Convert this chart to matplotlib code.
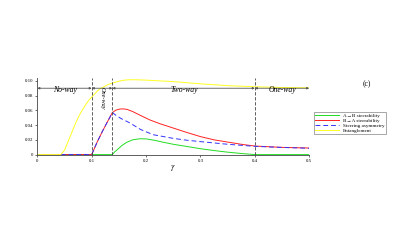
import matplotlib
matplotlib.use("Agg")
import matplotlib.pyplot as plt

plt.rcParams["font.family"] = ["Liberation Serif", "DejaVu Serif"]
plt.rcParams["mathtext.fontset"] = "stix"

# entanglement (yellow)
x_ent = [0, 0.043, 0.05, 0.055, 0.06, 0.065, 0.07, 0.075, 0.08, 0.085, 0.09, 0.095,
         0.1, 0.105, 0.11, 0.115, 0.12, 0.13, 0.138, 0.15, 0.16,
         0.17, 0.18, 0.2, 0.225, 0.25, 0.3, 0.35, 0.4, 0.45, 0.5]
y_ent = [0, 0, 0.006, 0.015, 0.024, 0.033, 0.042, 0.050, 0.057, 0.063, 0.069, 0.074,
         0.078, 0.082, 0.086, 0.089, 0.091, 0.095, 0.097, 0.0995, 0.101,
         0.1015, 0.1015, 0.101, 0.100, 0.099, 0.096, 0.0935, 0.092, 0.091, 0.0905]

# B->A steerability (red)
x_ba = [0, 0.1, 0.11, 0.12, 0.13, 0.138, 0.145, 0.152, 0.158, 0.165, 0.175, 0.19,
        0.207, 0.225, 0.25, 0.275, 0.3, 0.325, 0.35, 0.375, 0.4, 0.45, 0.5]
y_ba = [0, 0, 0.017, 0.032, 0.046, 0.057, 0.0605, 0.0618, 0.062, 0.0613, 0.0585, 0.053,
        0.047, 0.042, 0.036, 0.030, 0.0244, 0.020, 0.017, 0.014, 0.0116, 0.0098, 0.0089]

# A->B steerability (green)
x_ab = [0, 0.138, 0.142, 0.146, 0.155, 0.164, 0.175, 0.189, 0.2, 0.215, 0.23, 0.25,
        0.275, 0.3, 0.325, 0.35, 0.375, 0.4, 0.5]
y_ab = [0, 0, 0.0035, 0.006, 0.012, 0.0165, 0.020, 0.0215, 0.0213, 0.0195, 0.017, 0.014,
        0.011, 0.008, 0.0055, 0.0033, 0.0015, 0, 0]

# steering asymmetry (blue dashed)
x_asy = [0, 0.1, 0.11, 0.12, 0.13, 0.138, 0.145, 0.155, 0.17, 0.19, 0.213, 0.25,
         0.275, 0.3, 0.35, 0.4, 0.45, 0.5]
y_asy = [0, 0, 0.017, 0.032, 0.046, 0.057, 0.053, 0.0485, 0.043, 0.034, 0.027, 0.022,
         0.0195, 0.0176, 0.014, 0.0112, 0.0097, 0.0086]

bounds = [0, 0.1, 0.138, 0.4, 0.5]
region_names = ["No-way", "One-way", "Two-way", "One-way"]

fig = plt.figure(figsize=(4.15, 2.45), dpi=100)
ax = fig.add_axes([0.09, 0.369, 0.655, 0.313])

ax.plot(x_ab, y_ab, c="#22dd22", lw=0.7, label="A\u2192B steerability")
ax.plot(x_ba, y_ba, c="#ff2222", lw=0.7, label="B\u2192A steerability")
ax.plot(x_asy, y_asy, c="#3333ff", lw=0.7, ls=(0, (5, 3)), label="Steering asymmetry")
ax.plot(x_ent, y_ent, c="#ffff22", lw=0.7, label="Entanglement")

for b in bounds[1:4]:
    ax.plot([b, b], [0, 0.104], c="#444444", lw=0.6, ls=(0, (4, 2)))

y_arrow = 0.09
for i in range(4):
    ax.annotate("", xy=(bounds[i], y_arrow), xytext=(bounds[i + 1], y_arrow),
                arrowprops=dict(arrowstyle="<|-|>", color="#555555", lw=0.6,
                                mutation_scale=3, shrinkA=0, shrinkB=0))

ax.text(0.05, 0.0875, region_names[0], style="italic", fontsize=5.5, ha="center", va="center")
ax.text(0.119, 0.077, region_names[1], style="italic", fontsize=4.5, ha="center",
        va="center", rotation=-90)
ax.text(0.27, 0.0875, region_names[2], style="italic", fontsize=5.5, ha="center", va="center")
ax.text(0.45, 0.0875, region_names[3], style="italic", fontsize=5.5, ha="center", va="center")

ax.set_xlim(0, 0.5)
ax.set_ylim(0, 0.104)
ax.set_xticks([0, 0.1, 0.2, 0.3, 0.4, 0.5])
ax.set_xticklabels(["0", "0.1", "0.2", "0.3", "0.4", "0.5"])
ax.set_yticks([0, 0.02, 0.04, 0.06, 0.08, 0.1])
ax.set_yticklabels(["0", "0.02", "0.04", "0.06", "0.08", "0.10"])
ax.tick_params(labelsize=3.5, length=1.5, width=0.4, pad=1.5)
ax.spines["top"].set_visible(False)
ax.spines["right"].set_visible(False)
ax.spines["left"].set_linewidth(0.6)
ax.spines["bottom"].set_linewidth(0.6)
ax.spines["left"].set_color("#444444")
ax.spines["bottom"].set_color("#444444")
ax.set_xlabel(r"$\gamma$", fontsize=6, labelpad=0)

fig.text(0.885, 0.655, "(c)", fontsize=5.5, ha="center", va="center")

leg = fig.legend(loc="center", bbox_to_anchor=(0.843, 0.498), fontsize=3.7,
                 frameon=True, fancybox=False, edgecolor="#666666", handlelength=4.5,
                 borderpad=0.3, labelspacing=0.05)
leg.get_frame().set_linewidth(0.5)

fig.savefig("out.png", dpi=100)
